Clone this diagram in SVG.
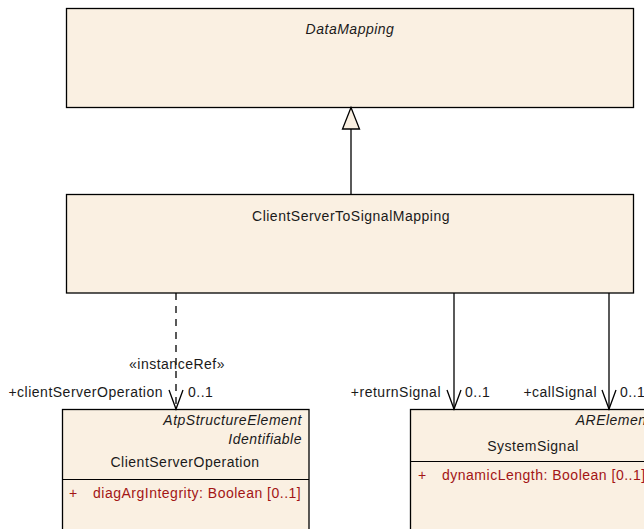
<svg xmlns="http://www.w3.org/2000/svg" width="644" height="529" viewBox="0 0 644 529">
<style>
.box{fill:#FAF0E2;stroke:#000;stroke-width:1.3}
.t{font-family:"Liberation Sans",Arial,sans-serif;font-size:14px;letter-spacing:0.5px;fill:#1a1a1a}
.i{font-style:italic}
.m{text-anchor:middle}
.e{text-anchor:end}
.attr{fill:#A31515}
.div{stroke:#000;stroke-width:1.2}
.c{stroke:#000;stroke-width:1.3;fill:none}
.d{stroke-dasharray:7,6}
</style>
<defs>
<marker id="open" markerUnits="userSpaceOnUse" markerWidth="24" markerHeight="20" viewBox="-22 -10 24 20" refX="0" refY="0" orient="auto">
<path d="M-19,-7 L0,0 L-19,7" fill="none" stroke="#000" stroke-width="1.3"/>
</marker>
</defs>
<g id="DataMapping">
<rect class="box" x="66.5" y="8.5" width="567" height="99"/>
<text class="t i m" x="350" y="34">DataMapping</text>
</g>
<g id="ClientServerToSignalMapping">
<rect class="box" x="66.5" y="194.5" width="567" height="98.5"/>
<text class="t m" x="351" y="221">ClientServerToSignalMapping</text>
</g>
<g id="ClientServerOperation">
<rect class="box" x="62.5" y="409.5" width="246.5" height="130"/>
<text class="t i e" x="302" y="425">AtpStructureElement</text>
<text class="t i e" x="302" y="443.5">Identifiable</text>
<text class="t m" x="185" y="467">ClientServerOperation</text>
<line class="div" x1="62.5" y1="479.5" x2="309" y2="479.5"/>
<text class="t attr" x="69" y="498">+</text>
<text class="t attr" x="93" y="498">diagArgIntegrity: Boolean [0..1]</text>
</g>
<g id="SystemSignal">
<rect class="box" x="410.5" y="409.5" width="247" height="130"/>
<text class="t i e" x="651" y="425">ARElement</text>
<text class="t m" x="533" y="451">SystemSignal</text>
<line class="div" x1="410.5" y1="461.5" x2="657.5" y2="461.5"/>
<text class="t attr" x="418" y="480">+</text>
<text class="t attr" x="442" y="480">dynamicLength: Boolean [0..1]</text>
</g>
<g id="connectors">
<line class="c" x1="351" y1="194.5" x2="351" y2="129"/>
<polygon points="351,107.5 342.5,129 359.5,129" fill="#FAF0E2" stroke="#000" stroke-width="1.3"/>
<line class="c d" x1="176" y1="293" x2="176" y2="409" marker-end="url(#open)"/>
<line class="c" x1="454" y1="293" x2="454" y2="409" marker-end="url(#open)"/>
<line class="c" x1="609" y1="293" x2="609" y2="409" marker-end="url(#open)"/>
<text class="t m" x="177" y="369">«instanceRef»</text>
<text class="t e" x="163" y="397">+clientServerOperation</text>
<text class="t" x="188" y="397">0..1</text>
<text class="t e" x="441" y="397">+returnSignal</text>
<text class="t" x="465" y="397">0..1</text>
<text class="t e" x="597" y="397">+callSignal</text>
<text class="t" x="620" y="397">0..1</text>
</g>
</svg>
